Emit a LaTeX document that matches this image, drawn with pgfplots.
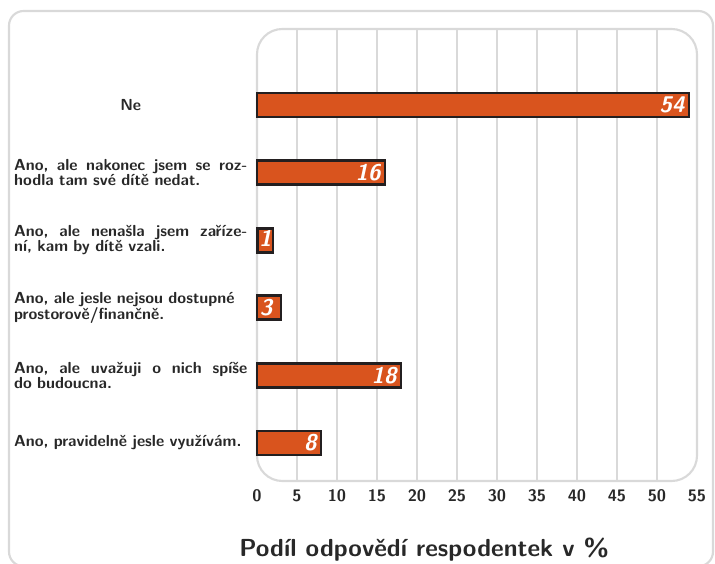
\documentclass[border=0pt]{standalone}
\usepackage{fontspec}
\usepackage{pgfplots}
\pgfplotsset{compat=1.18}
\definecolor{barfill}{RGB}{217,84,30}
\definecolor{barline}{RGB}{35,31,32}
\definecolor{txt}{RGB}{40,40,40}
\definecolor{gridc}{RGB}{217,217,217}
\newcommand\lw{175pt}
\newcommand\J[1]{\makebox[\lw][l]{#1}}
\newcommand\vlabel[1]{\ifdim#1pt<2pt{\setlength\fboxsep{0pt}\setlength\fboxrule{2pt}\fcolorbox{barline}{barfill}{\rule[-3.5pt]{0pt}{16pt}\pgfmathprintnumber{#1}}}\else\pgfmathprintnumber{#1}\fi}
\begin{document}
\begin{tikzpicture}
\path[use as bounding box] (-192.75pt,-62.25pt) rectangle (343.5pt,360.75pt);
\draw[gridc, line width=1.6pt, rounded corners=11pt] (-186pt,-64pt) rectangle (342pt,352.5pt);
\begin{axis}[
  scale only axis,
  width=330pt, height=339pt,
  xmin=0, xmax=55,
  ymin=-0.562, ymax=6.124,
  xbar, bar width=18pt,
  axis line style={draw=none},
  major tick length=0pt,
  xtick={5,10,...,50},
  extra x ticks={0,55},
  extra x tick style={grid=none},
  xmajorgrids,
  grid style={gridc, line width=1.6pt},
  ytick={0,1,2,3,4,5},
  yticklabels={
    {\mbox{Ano, pravidelně jesle využívám.}},
    {\J{Ano,\hfill ale\hfill uvažuji\hfill o\hfill nich\hfill spíše}\\do budoucna.},
    {\J{Ano, ale jesle nejsou dostupné}\\prostorově/finančně.},
    {\J{Ano,\hfill ale\hfill nenašla\hfill jsem\hfill zaříze-}\\ní, kam by dítě vzali.},
    {\J{Ano,\hfill ale\hfill nakonec\hfill jsem\hfill se\hfill roz-}\\hodla tam své dítě nedat.},
    {\makebox[\lw][c]{Ne}}
  },
  yticklabel style={text width=\lw, align=left, inner sep=0pt, xshift=-7pt,
    font=\sffamily\bfseries\fontsize{12}{11}\selectfont, text=txt},
  xticklabel style={font=\sffamily\bfseries\fontsize{12.5}{13}\selectfont, text=txt, yshift=-3pt},
  /pgf/number format/assume math mode=true,
  xlabel={Podíl odpovědí respodentek v \%},
  xlabel style={at={(rel axis cs:0.38,0)}, anchor=base, yshift=-57pt,
    font=\sffamily\bfseries\fontsize{18.5}{20}\selectfont, text=txt},
  visualization depends on={rawx \as \rawx},
  nodes near coords={\vlabel{\rawx}},
  nodes near coords style={anchor=east, text=white,
    xshift={ifthenelse(\rawx<5,17.9-6.675*\rawx,1)},
    font=\sffamily\bfseries\itshape\fontsize{17}{17}\selectfont},
  clip=false,
]
\draw[gridc, line width=1.6pt, rounded corners=19pt] (rel axis cs:0,0) rectangle (rel axis cs:1,1);
\addplot[fill=barfill, draw=barline, line width=2pt]
  coordinates {(8,0) (18,1) (3,2) (1,3) (16,4) (54,5)};
\end{axis}
\end{tikzpicture}
\end{document}
